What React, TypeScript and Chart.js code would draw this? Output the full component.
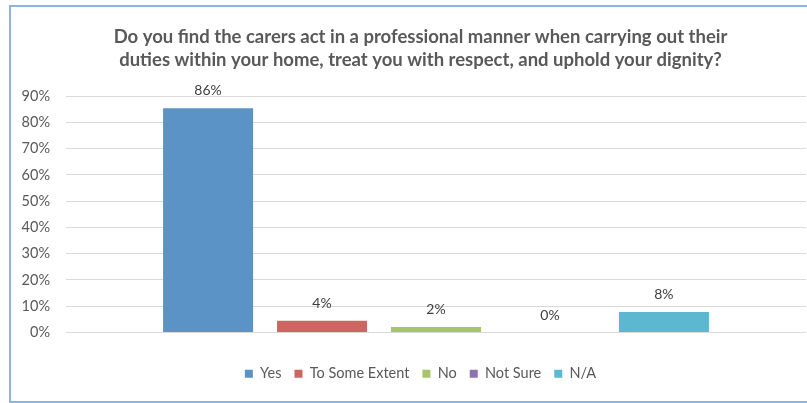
import React, { useEffect, useRef } from "react";
import { Chart, registerables } from "chart.js";

Chart.register(...registerables);

const titleLines = [
  "Do you find the carers act in a professional manner when carrying out their",
  "duties within your home, treat you with respect, and uphold your dignity?",
];
const categories = [""];
const seriesNames = ["Yes", "To Some Extent", "No", "Not Sure", "N/A"];
const seriesValues = [85.3, 4.5, 2.1, 0, 7.8];
const seriesLabels = ["86%", "4%", "2%", "0%", "8%"];
const seriesColors = ["#5B93C7", "#CD6660", "#A6C46A", "#8C72B0", "#5BB8D0"];
const yTicks = [0, 10, 20, 30, 40, 50, 60, 70, 80, 90];

const FONT = "Lato, 'Open Sans', sans-serif";

const labelPlugin = {
  id: "barLabels",
  afterDatasetsDraw(chart: any) {
    const ctx = chart.ctx;
    ctx.save();
    ctx.font = `14px ${FONT}`;
    ctx.fillStyle = "#404040";
    ctx.textAlign = "center";
    ctx.textBaseline = "alphabetic";
    chart.data.datasets.forEach((ds: any, i: number) => {
      const meta = chart.getDatasetMeta(i);
      const el = meta.data[0];
      if (!el) return;
      ctx.fillText(seriesLabels[i], el.x, el.y - 13);
    });
    ctx.restore();
  },
};

const titlePlugin = {
  id: "centeredTitle",
  afterDraw(chart: any) {
    const ctx = chart.ctx;
    ctx.save();
    ctx.font = `bold 18.5px ${FONT}`;
    ctx.fillStyle = "#595959";
    ctx.textAlign = "center";
    ctx.textBaseline = "middle";
    const cx = chart.width / 2;
    const top = chart.chartArea.top;
    titleLines.forEach((line, i) => {
      ctx.fillText(line, cx, top - 59 + i * 23);
    });
    ctx.restore();
  },
};

export default function App() {
  const ref = useRef<HTMLCanvasElement | null>(null);
  useEffect(() => {
    if (!ref.current) return;
    const chart = new Chart(ref.current, {
      type: "bar",
      data: {
        labels: categories,
        datasets: seriesNames.map((name, i) => ({
          label: name,
          data: [seriesValues[i]],
          backgroundColor: seriesColors[i],
          borderWidth: 0,
          barPercentage: 0.79,
          categoryPercentage: 0.77,
        })),
      },
      options: {
        animation: false,
        responsive: false,
        maintainAspectRatio: false,
        layout: { padding: { left: 0, right: 0, top: 90, bottom: 11 } },
        plugins: {
          title: { display: false },
          legend: {
            display: true,
            position: "bottom",
            labels: {
              boxWidth: 8,
              boxHeight: 8,
              color: "#595959",
              font: { family: FONT, size: 14.5 },
              padding: 13,
            },
          },
          tooltip: { enabled: false },
        },
        scales: {
          x: {
            grid: { display: false },
            border: { display: false },
            ticks: { display: false },
            afterFit: (a: any) => {
              a.height = a.height + 13;
            },
          },
          y: {
            min: 0,
            max: 90,
            afterBuildTicks: (axis: any) => {
              axis.ticks = yTicks.map((v) => ({ value: v }));
            },
            afterFit: (a: any) => {
              a.width = 56;
            },
            grid: { color: "#D9D9D9", lineWidth: 1, drawTicks: false },
            border: { display: false },
            ticks: {
              color: "#595959",
              font: { family: FONT, size: 14.5 },
              padding: 16,
              callback: (v: any) => `${v}%`,
            },
          },
          yRight: {
            type: "linear",
            position: "right",
            grid: { display: false },
            border: { display: false },
            ticks: { display: false },
            afterFit: (a: any) => {
              a.width = 25;
            },
          },
        },
      },
      plugins: [labelPlugin, titlePlugin],
    });
    return () => chart.destroy();
  }, []);

  return (
    <div
      style={{
        position: "fixed",
        left: 0,
        top: 0,
        width: 807,
        height: 403,
        background: "#fff",
        overflow: "hidden",
      }}
    >
      <canvas
        ref={ref}
        width={821}
        height={396}
        style={{ position: "absolute", left: 10, top: 6, width: 821, height: 396 }}
      />
      <div
        style={{
          position: "absolute",
          left: 9,
          top: 5,
          width: 830,
          height: 398,
          border: "2px solid #8DB3E2",
          boxSizing: "border-box",
          pointerEvents: "none",
        }}
      />
    </div>
  );
}
